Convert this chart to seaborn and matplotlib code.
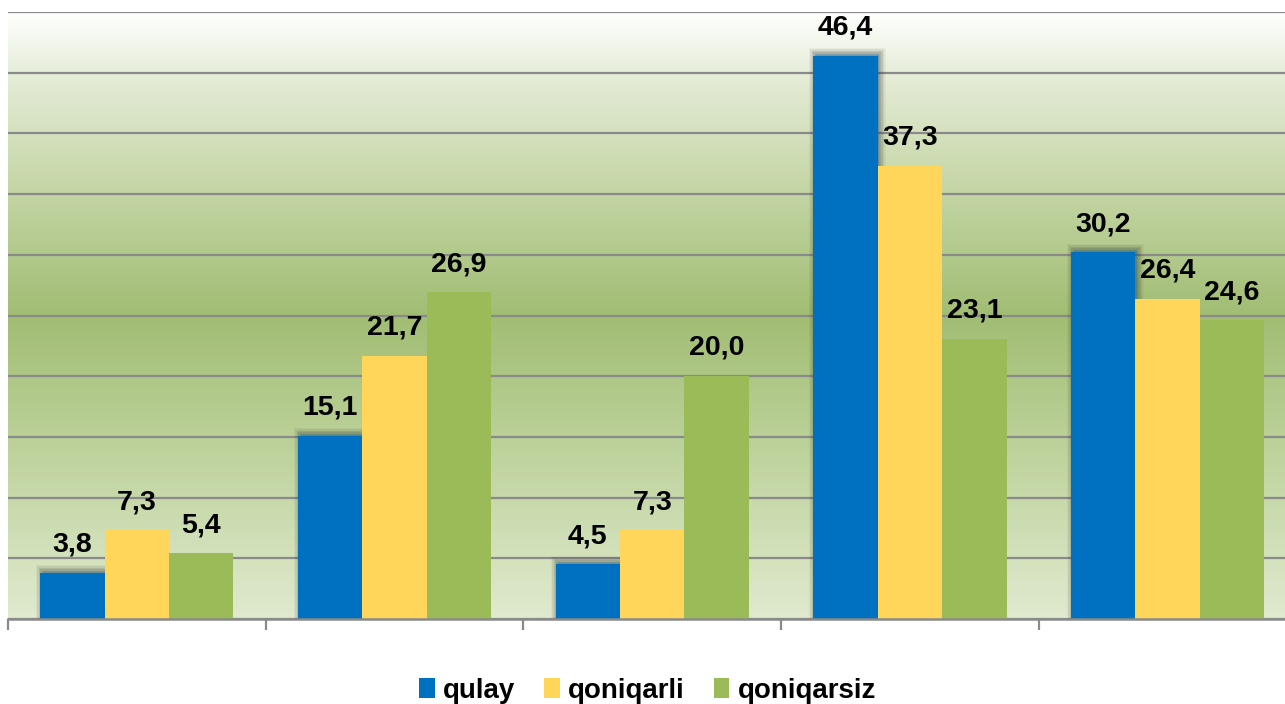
import numpy as np
import pandas as pd
import matplotlib
matplotlib.use("Agg")
import matplotlib.pyplot as plt
import matplotlib.patheffects as pe
import seaborn as sns
from matplotlib.colors import LinearSegmentedColormap
from matplotlib.patches import Patch

groups = ["1", "2", "3", "4", "5"]
series = ["qulay", "qoniqarli", "qoniqarsiz"]
qulay = [3.8, 15.1, 4.5, 46.4, 30.2]
qoniqarli = [7.3, 21.7, 7.3, 37.3, 26.4]
qoniqarsiz = [5.4, 26.9, 20.0, 23.1, 24.6]
colors = ["#0070C0", "#FFD55A", "#9BBB59"]

df = pd.DataFrame({
    "group": groups * 3,
    "series": [s for s in series for _ in groups],
    "value": qulay + qoniqarli + qoniqarsiz,
})

sns.set_theme(style="white")
plt.rcParams["font.family"] = ["Liberation Sans", "DejaVu Sans"]
plt.rcParams["text.color"] = "black"

fig = plt.figure(figsize=(12.85, 7.04), dpi=100)
ax = fig.add_axes([8 / 1285, 1 - 619 / 704, 1288.5 / 1285, (619 - 12) / 704])

# gradient background
grad_cmap = LinearSegmentedColormap.from_list(
    "bg",
    [(0.0, "#e0eacf"), (0.28, "#bdd29b"), (0.50, "#a1bd73"),
     (0.72, "#c6d7a8"), (0.90, "#e6edd9"), (1.0, "#fefffd")])
gradient = np.linspace(0, 1, 256).reshape(-1, 1)
ax.imshow(gradient, aspect="auto", cmap=grad_cmap, origin="lower",
          extent=[-0.5, 4.5, 0, 50], zorder=0)

sns.barplot(data=df, x="group", y="value", hue="series", palette=colors,
            width=0.75, saturation=1, ax=ax, legend=False, zorder=3,
            edgecolor="none")

# soft shadow on the first series
shadow = [pe.Stroke(linewidth=w, foreground="#2a2a2a", alpha=a, offset=(1.2, 1.5))
          for w, a in [(9, 0.06), (7, 0.08), (5, 0.10), (3, 0.12)]]
shadow.append(pe.Normal())
for bar in ax.containers[0]:
    bar.set_path_effects(shadow)

ax.set_xlim(-0.5, 4.5)
ax.set_ylim(0, 50)
ax.set_yticks(np.arange(0, 51, 5))
ax.yaxis.grid(True, color="#8a8a8a", linewidth=1.6, zorder=1)
ax.set_axisbelow(True)
ax.set_yticklabels([])
ax.tick_params(axis="y", length=0, left=False)
ax.set_xticks(np.arange(-0.5, 4.6, 1))
ax.set_xticklabels([])
ax.tick_params(axis="x", bottom=True, length=8, width=1.6, color="#8a8a8a",
               direction="out")
ax.set_xlabel("")
ax.set_ylabel("")
for s in ["top", "right", "left"]:
    ax.spines[s].set_visible(False)
ax.spines["bottom"].set_color("#8a8a8a")
ax.spines["bottom"].set_linewidth(1.8)
ax.spines["bottom"].set_zorder(6)

for container in ax.containers:
    for bar in container:
        h = bar.get_height()
        ax.annotate(f"{h:.1f}".replace(".", ","),
                    (bar.get_x() + bar.get_width() / 2, h),
                    xytext=(0, 11), textcoords="offset points",
                    ha="center", va="bottom", fontsize=20.5,
                    fontweight="bold", color="black", zorder=7,
                    annotation_clip=False)

handles = [Patch(facecolor=c, edgecolor="none") for c in colors]
leg = fig.legend(handles, series, loc="center", bbox_to_anchor=(0.504, 0.019),
                 ncol=3, frameon=False, prop={"weight": "bold", "size": 20},
                 handlelength=0.55, handleheight=0.75, handletextpad=0.3,
                 columnspacing=1.05)
for t in leg.get_texts():
    t.set_color("black")

fig.savefig("out.png", dpi=100)
